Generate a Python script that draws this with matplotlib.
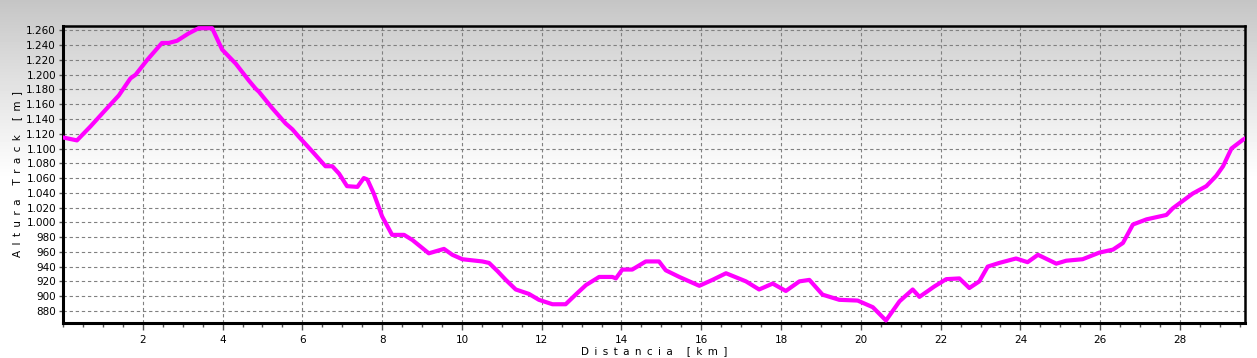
import numpy as np
import matplotlib
matplotlib.use("Agg")
import matplotlib.pyplot as plt
from matplotlib.ticker import FuncFormatter, MultipleLocator

# Distance along track (km) and elevation (m)
dist_km = [0.0, 0.35, 0.69, 1.06, 1.40, 1.69, 1.82, 2.11, 2.48, 2.65, 2.86, 3.15, 3.40,
           3.74, 3.86, 3.99, 4.33, 4.66, 4.83, 4.91, 5.24, 5.58, 5.75, 5.91, 6.25, 6.58,
           6.75, 6.92, 7.12, 7.38, 7.54, 7.63, 7.79, 8.00, 8.25, 8.55, 8.76, 9.17, 9.55,
           9.76, 10.01, 10.51, 10.68, 10.89, 11.10, 11.35, 11.68, 11.93, 12.27, 12.60,
           12.85, 13.11, 13.44, 13.77, 13.86, 14.02, 14.27, 14.61, 14.94, 15.11, 15.45,
           15.95, 16.28, 16.62, 17.12, 17.45, 17.79, 18.12, 18.46, 18.71, 19.04, 19.46,
           19.92, 20.30, 20.63, 20.97, 21.30, 21.47, 21.84, 22.14, 22.47, 22.72, 22.97,
           23.18, 23.47, 23.89, 24.18, 24.44, 24.90, 25.15, 25.56, 25.98, 26.32, 26.57,
           26.82, 27.16, 27.66, 27.82, 28.07, 28.32, 28.66, 28.91, 29.08, 29.29, 29.58,
           29.65]
elev_m = [1115, 1111, 1130, 1152, 1172, 1195, 1200, 1220, 1243, 1243, 1246, 1256, 1263,
          1263, 1249, 1234, 1215, 1192, 1181, 1177, 1155, 1134, 1126, 1116, 1096, 1076,
          1076, 1066, 1049, 1048, 1060, 1058, 1039, 1008, 983, 983, 976, 958, 964,
          956, 950, 947, 945, 934, 922, 909, 903, 895, 889, 889,
          902, 915, 926, 926, 924, 936, 936, 947, 947, 935, 926,
          914, 922, 931, 920, 909, 917, 907, 920, 922, 902, 895,
          894, 885, 867, 893, 909, 899, 913, 923, 924, 911, 920,
          940, 945, 951, 946, 956, 944, 948, 950, 959, 963, 972,
          997, 1004, 1010, 1019, 1029, 1039, 1049, 1063, 1076, 1100, 1112,
          1114]

x_ticks = list(range(2, 30, 2))
y_ticks = list(range(880, 1261, 20))
x_label = "Distancia [km]"
y_label = "Altura Track [m]"


def spaced(s):
    return " \u2009".join(s)


fig = plt.figure(figsize=(12.57, 3.58), dpi=100)

# background gradient over whole figure
bg = fig.add_axes([0, 0, 1, 1], zorder=-10)
h = 358
t = np.linspace(0, 1, h)
vals = np.clip(0.77 + (1 - 0.77) * (t / 0.50) ** 0.9, 0, 1)
grad = np.repeat(vals[:, None], 10, axis=1)
bg.imshow(grad, cmap="gray", vmin=0, vmax=1, aspect="auto", extent=[0, 1, 1, 0])
bg.set_axis_off()

ax = fig.add_axes([63 / 1257, 1 - 322.7 / 358, (1245 - 63) / 1257, (322.7 - 26) / 358])
ax.patch.set_alpha(0)

ax.plot(dist_km, elev_m, color="#ff00ff", lw=3.0, solid_joinstyle="round",
        solid_capstyle="round", zorder=3)

ax.set_xlim(0, 29.63)
ax.set_ylim(864, 1266)
ax.set_xticks(x_ticks)
ax.set_yticks(y_ticks)
ax.xaxis.set_minor_locator(MultipleLocator(0.5))
ax.yaxis.set_major_formatter(FuncFormatter(lambda v, p: f"{int(v):,}".replace(",", ".")))

ax.grid(True, which="major", color="#808080", linestyle=(0, (3, 2.5)), linewidth=0.8)
ax.set_axisbelow(True)

for s in ax.spines.values():
    s.set_color("black")
    s.set_linewidth(1.8)
ax.spines["left"].set_linewidth(2.2)
ax.spines["bottom"].set_linewidth(2.2)

ax.tick_params(axis="x", which="major", length=5, width=1, color="#555555",
               labelsize=7.5, pad=4)
ax.tick_params(axis="x", which="minor", length=3, width=1, color="#555555")
ax.tick_params(axis="y", which="major", length=3, width=1, color="#555555",
               labelsize=7.5, pad=2)

ax.set_xlabel(spaced(x_label), fontsize=7.5, labelpad=1)
ax.set_ylabel(spaced(y_label), fontsize=7.5, labelpad=3)

fig.savefig("out.png", dpi=100)
